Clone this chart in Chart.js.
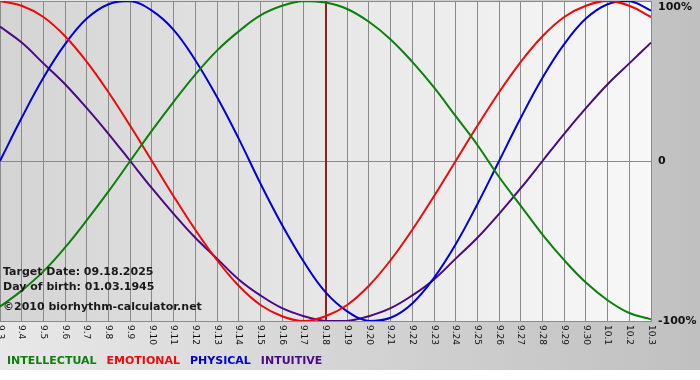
<!DOCTYPE html>
<html>
<head>
<meta charset="utf-8">
<script src="https://cdn.jsdelivr.net/npm/chart.js@4.4.0/dist/chart.umd.min.js"></script>
<style>
	html, body { margin: 0; padding: 0; background: #fff; }
	#wrap { width: 700px; height: 380px; }
</style>
</head>
<body>
<div id="wrap"><canvas id="myChart" width="700" height="380"></canvas></div>
<script>
// Days shown (month.day)
const dayLabels = ['9.3', '9.4', '9.5', '9.6', '9.7', '9.8', '9.9', '9.10', '9.11', '9.12', '9.13', '9.14', '9.15', '9.16', '9.17', '9.18', '9.19', '9.20', '9.21', '9.22', '9.23', '9.24', '9.25', '9.26', '9.27', '9.28', '9.29', '9.30', '10.1', '10.2', '10.3'];

// Values (-1 .. 1)
const intellectual = [-0.91, -0.81, -0.69, -0.54, -0.37, -0.19, 0, 0.19, 0.37, 0.54, 0.69, 0.81, 0.91, 0.97, 1.0, 0.99, 0.95, 0.87, 0.76, 0.62, 0.46, 0.28, 0.10, -0.10, -0.28, -0.46, -0.62, -0.76, -0.87, -0.95, -0.99];
const emotional = [1.0, 0.97, 0.90, 0.78, 0.62, 0.43, 0.22, 0, -0.22, -0.43, -0.62, -0.78, -0.90, -0.97, -1.0, -0.97, -0.90, -0.78, -0.62, -0.43, -0.22, 0, 0.22, 0.43, 0.62, 0.78, 0.90, 0.97, 1.0, 0.97, 0.90];
const physical = [0, 0.27, 0.52, 0.73, 0.89, 0.98, 1.0, 0.94, 0.82, 0.63, 0.40, 0.14, -0.14, -0.40, -0.63, -0.82, -0.94, -1.0, -0.98, -0.89, -0.73, -0.52, -0.27, 0, 0.27, 0.52, 0.73, 0.89, 0.98, 1.0, 0.94];
const intuitive = [0.84, 0.74, 0.61, 0.48, 0.33, 0.17, 0, -0.17, -0.33, -0.48, -0.61, -0.74, -0.84, -0.92, -0.97, -1.0, -1.0, -0.97, -0.92, -0.84, -0.74, -0.61, -0.48, -0.33, -0.17, 0, 0.17, 0.33, 0.48, 0.61, 0.74];

const seriesNames = ['INTELLECTUAL', 'EMOTIONAL', 'PHYSICAL', 'INTUITIVE'];
const seriesColors = ['#0b800b', '#ee0a0a', '#0000d8', '#4b0a82'];
const targetDay = '9.18';
const infoLines = ['Target Date: 09.18.2025', 'Day of birth: 01.03.1945', '\u00a92010 biorhythm-calculator.net'];

const FONT = '"DejaVu Sans", Verdana, sans-serif';

// fondo, línea del día, etiquetas y leyenda
const decoPlugin = {
	id: 'deco',
	beforeDraw(chart) {
		const { ctx, chartArea: a, width, height } = chart;
		ctx.save();
		ctx.fillStyle = '#ffffff';
		ctx.fillRect(0, 0, width, height);
		let g = ctx.createLinearGradient(0, 0, width, 0);
		g.addColorStop(0, '#e8e8e8');
		g.addColorStop(1, '#c0c0c0');
		ctx.fillStyle = g;
		ctx.fillRect(0, 0, width, 370);
		g = ctx.createLinearGradient(a.left, 0, a.right, 0);
		g.addColorStop(0, '#d4d4d4');
		g.addColorStop(0.5, '#e7e7e7');
		g.addColorStop(1, '#f8f8f8');
		ctx.fillStyle = g;
		ctx.fillRect(a.left, a.top, a.right - a.left, a.bottom - a.top);
		ctx.restore();
	},
	beforeDatasetsDraw(chart) {
		const { ctx, chartArea: a } = chart;
		const x = Math.round(chart.scales.x.getPixelForValue(dayLabels.indexOf(targetDay)));
		ctx.save();
		ctx.strokeStyle = '#8c2222';
		ctx.lineWidth = 2;
		ctx.beginPath();
		ctx.moveTo(x, a.top);
		ctx.lineTo(x, a.bottom);
		ctx.stroke();
		ctx.restore();
	},
	afterDraw(chart) {
		const { ctx } = chart;
		const xs = chart.scales.x;
		ctx.save();
		// etiquetas del eje x giradas
		ctx.font = '9px ' + FONT;
		ctx.fillStyle = '#111';
		ctx.textAlign = 'left';
		ctx.textBaseline = 'middle';
		xs.ticks.forEach((t, i) => {
			const px = xs.getPixelForTick(i);
			ctx.save();
			ctx.translate(px, xs.top + 4);
			ctx.rotate(Math.PI / 2);
			ctx.fillText(xs.getLabelForValue(t.value), 0, 0);
			ctx.restore();
		});
		// textos informativos
		ctx.font = 'bold 11px ' + FONT;
		ctx.fillStyle = '#1a1a1a';
		ctx.fillText(infoLines[0], 3, 272);
		ctx.fillText(infoLines[1], 3, 287);
		ctx.fillText(infoLines[2], 3, 307);
		// leyenda
		let lx = 7;
		chart.data.datasets.forEach((ds) => {
			ctx.fillStyle = ds.borderColor;
			ctx.fillText(ds.label, lx, 361);
			lx += ctx.measureText(ds.label).width + 10;
		});
		ctx.restore();
	},
};

const seriesData = [intellectual, emotional, physical, intuitive];

const myChart = new Chart(document.getElementById('myChart').getContext('2d'), {
	type: 'line',
	data: {
		labels: dayLabels,
		datasets: seriesData.map((vals, i) => ({
			label: seriesNames[i],
			data: vals,
			borderColor: seriesColors[i],
			borderWidth: 2,
			pointRadius: 0,
			tension: 0.4,
			fill: false,
		})),
	},
	options: {
		responsive: false,
		animation: false,
		layout: { padding: { top: 1, left: 0, right: 0, bottom: 0 } },
		scales: {
			x: {
				grid: { color: '#8a8a8a', lineWidth: 1, drawTicks: false },
				border: { color: '#8a8a8a' },
				ticks: { display: false },
				afterFit: (scale) => {
					scale.height = 59;
					scale.paddingLeft = 0;
					scale.paddingRight = 0;
				},
			},
			y: {
				position: 'right',
				min: -1,
				max: 1,
				grid: { color: '#8a8a8a', lineWidth: 1, drawTicks: false },
				border: { color: '#8a8a8a' },
				ticks: {
					stepSize: 1,
					padding: 7,
					color: '#111',
					font: { family: FONT, size: 11, weight: 'bold' },
					callback: (v) => (v === 1 ? ['', '100%'] : v === -1 ? '-100%' : '0'),
				},
				afterFit: (scale) => {
					scale.width = 49;
					scale.paddingTop = 0;
					scale.paddingBottom = 0;
				},
			},
		},
		plugins: {
			legend: { display: false },
			tooltip: { enabled: false },
		},
	},
	plugins: [decoPlugin],
});
</script>
</body>
</html>
